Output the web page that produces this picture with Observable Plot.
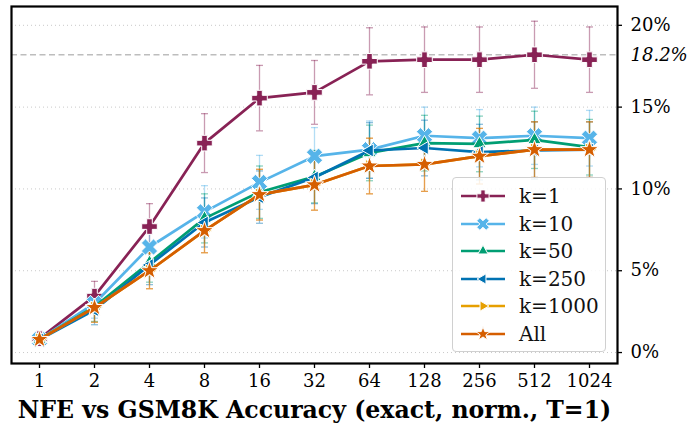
<!DOCTYPE html>
<html>
<head>
<meta charset="utf-8">
<script src="https://cdn.jsdelivr.net/npm/d3@7"></script>
<script src="https://cdn.jsdelivr.net/npm/@observablehq/plot@0.6"></script>
<style>
  html, body { margin: 0; padding: 0; background: white; }
  #wrap { position: relative; width: 693px; height: 428px; font-family: "DejaVu Serif", serif; }
  #legend { position: absolute; left: 452px; top: 177px; width: 154px; height: 175px; box-sizing: border-box;
    border: 1px solid #d0d0d0; border-radius: 4px; background: rgba(255,255,255,0.85); }
  .lg-row { position: absolute; left: 0; height: 26px; display: flex; align-items: center; }
  .lg-row svg { margin-left: 7px; }
  .lg-row span { margin-left: 13px; font-size: 20px; color: #111; }
</style>
</head>
<body>
<div id="wrap"></div>
<script>
// ---- data (percent) ----
const nfe = ["1","2","4","8","16","32","64","128","256","512","1024"];
const seriesNames = ["k=1","k=10","k=50","k=250","k=1000","All"];
const colors = ["#882255","#56B4E9","#009E73","#0072B2","#E69F00","#D55E00"];

const k1    = [0.85, 3.45, 7.7, 12.8, 15.55, 15.9, 17.8, 17.9, 17.9, 18.2, 17.9];
const k10   = [0.8, 3.0, 6.45, 8.6, 10.4, 12.0, 12.4, 13.25, 13.1, 13.25, 13.1];
const k50   = [0.8, 2.8, 5.5, 8.2, 9.8, 10.75, 12.2, 12.8, 12.75, 13.0, 12.55];
const k250  = [0.8, 2.6, 5.35, 7.95, 9.5, 10.7, 12.35, 12.5, 12.25, 12.35, 12.4];
const k1000 = [0.8, 2.75, 5.0, 7.45, 9.65, 10.25, 11.4, 11.5, 12.0, 12.4, 12.4];
const all   = [0.8, 2.75, 5.0, 7.45, 9.65, 10.25, 11.4, 11.5, 12.0, 12.4, 12.4];

const errK1    = [0.3, 0.9, 1.4, 1.8, 2.0, 1.95, 2.05, 2.0, 2.0, 2.05, 2.0];
const errK10   = [0.3, 0.9, 1.3, 1.6, 1.65, 1.75, 1.75, 1.75, 1.75, 1.75, 1.7];
const errK50   = [0.3, 0.9, 1.2, 1.5, 1.6, 1.6, 1.7, 1.7, 1.7, 1.75, 1.7];
const errK250  = [0.3, 0.9, 1.2, 1.5, 1.6, 1.6, 1.7, 1.7, 1.7, 1.75, 1.7];
const errK1000 = [0.3, 0.9, 1.1, 1.35, 1.55, 1.55, 1.7, 1.65, 1.7, 1.7, 1.7];
const errAll   = [0.3, 0.9, 1.1, 1.35, 1.55, 1.55, 1.7, 1.65, 1.7, 1.7, 1.7];

const yTicks = [0, 5, 10, 15, 20];
const refValue = 18.2;
const titleText = "NFE vs GSM8K Accuracy (exact, norm., T=1)";

// ---- custom symbols ----
const rad = s => Math.sqrt(s / Math.PI);
function crossPath(ctx, r, t, rot) {
  const pts = [[-t,-r],[t,-r],[t,-t],[r,-t],[r,t],[t,t],[t,r],[-t,r],[-t,t],[-r,t],[-r,-t],[-t,-t]];
  const c = Math.cos(rot), s = Math.sin(rot);
  pts.forEach(([x,y],i) => { const X = x*c - y*s, Y = x*s + y*c; i ? ctx.lineTo(X,Y) : ctx.moveTo(X,Y); });
  ctx.closePath();
}
const symPlus = { draw(ctx, size) { const r = rad(size); crossPath(ctx, r, r*0.36, 0); } };
const symX = { draw(ctx, size) { const r = rad(size); crossPath(ctx, r, r*0.34, Math.PI/4); } };
function triangle(ctx, r, ang) {
  for (let i = 0; i < 3; i++) {
    const a = ang + i * 2 * Math.PI / 3;
    const x = r * Math.cos(a), y = r * Math.sin(a);
    i ? ctx.lineTo(x, y) : ctx.moveTo(x, y);
  }
  ctx.closePath();
}
const symUp = { draw(ctx, size) { triangle(ctx, rad(size), -Math.PI/2); } };
const symLeft = { draw(ctx, size) { triangle(ctx, rad(size), Math.PI); } };
const symRight = { draw(ctx, size) { triangle(ctx, rad(size), 0); } };
const symStar = { draw(ctx, size) {
  const r = rad(size), ri = r * 0.4;
  for (let i = 0; i < 10; i++) {
    const a = -Math.PI/2 + i * Math.PI / 5, rr = i % 2 ? ri : r;
    const x = rr * Math.cos(a), y = rr * Math.sin(a);
    i ? ctx.lineTo(x, y) : ctx.moveTo(x, y);
  }
  ctx.closePath();
} };
const symCap = { draw(ctx, size) { const r = rad(size); ctx.moveTo(-r, 0); ctx.lineTo(r, 0); } };
const symbols = [symPlus, symX, symUp, symLeft, symRight, symStar];
const symR = [7.8, 8.6, 7.6, 7.6, 7.6, 9.5];

// ---- table ----
const vals = [k1, k10, k50, k250, k1000, all];
const errs = [errK1, errK10, errK50, errK250, errK1000, errAll];
const rows = [];
seriesNames.forEach((s, si) => nfe.forEach((n, i) => rows.push({
  series: s, si, nfe: n, y: vals[si][i], lo: vals[si][i] - errs[si][i], hi: vals[si][i] + errs[si][i]
})));

const marks = [
  Plot.gridY(yTicks, {stroke: "#bbb", strokeOpacity: 1, strokeDasharray: "1,3", strokeWidth: 0.8}),
  Plot.ruleY([refValue], {stroke: "#bdbdbd", strokeDasharray: "6,3.5", strokeWidth: 1.4})
];
// error bars
seriesNames.forEach((s, si) => {
  const d = rows.filter(r => r.si === si);
  const o = {stroke: colors[si], strokeOpacity: 0.45, strokeWidth: 1.3};
  marks.push(Plot.ruleX(d, {x: "nfe", y1: "lo", y2: "hi", ...o}));
  marks.push(Plot.dot(d, {x: "nfe", y: "lo", symbol: () => symCap, r: 3.5, fill: "none", ...o}));
  marks.push(Plot.dot(d, {x: "nfe", y: "hi", symbol: () => symCap, r: 3.5, fill: "none", ...o}));
});
// lines and markers
seriesNames.forEach((s, si) => {
  const d = rows.filter(r => r.si === si);
  marks.push(Plot.line(d, {x: "nfe", y: "y", stroke: colors[si], strokeWidth: 2.7}));
  marks.push(Plot.dot(d, {x: "nfe", y: "y", symbol: () => symbols[si], r: symR[si], fill: colors[si], stroke: "white", strokeWidth: 1}));
});
marks.push(
  Plot.frame({stroke: "black", strokeWidth: 2.2}),
  Plot.axisX({tickSize: 5, tickPadding: 6, label: null, fontSize: 18, strokeWidth: 1.3}),
  Plot.axisY(yTicks, {anchor: "right", tickSize: 4, tickPadding: 9, label: null, fontSize: 18, strokeWidth: 1.3, tickFormat: d => d + "%"}),
  Plot.axisY([refValue], {anchor: "right", tickSize: 0, tickPadding: 13, label: null, fontSize: 18, fontStyle: "italic", tickFormat: d => d + "%"}),
  Plot.text([titleText], {frameAnchor: "bottom", lineAnchor: "middle", dy: 47, fontSize: 23.6, fontWeight: "bold", fill: "black"})
);

const chart = Plot.plot({
  width: 693, height: 428,
  marginLeft: 11, marginRight: 76, marginTop: 6, marginBottom: 65,
  style: {fontFamily: "DejaVu Serif", background: "white", color: "black", overflow: "visible"},
  x: {type: "point", domain: nfe, padding: 0.5},
  y: {domain: [-0.67, 21.15]},
  marks
});
const wrap = document.getElementById("wrap");
wrap.appendChild(chart);

// legend
const legend = document.createElement("div");
legend.id = "legend";
seriesNames.forEach((s, si) => {
  const row = document.createElement("div");
  row.className = "lg-row";
  row.style.top = (5 + si * 27.5) + "px";
  const svg = d3.create("svg").attr("width", 46).attr("height", 26);
  svg.append("line").attr("x1", 1).attr("x2", 45).attr("y1", 13).attr("y2", 13)
    .attr("stroke", colors[si]).attr("stroke-width", 2.6);
  svg.append("path").attr("transform", "translate(23,13)")
    .attr("d", d3.symbol(symbols[si], Math.PI * Math.pow(symR[si] * 0.78, 2))())
    .attr("fill", colors[si]).attr("stroke", "white").attr("stroke-width", 1);
  row.appendChild(svg.node());
  const lab = document.createElement("span");
  lab.textContent = s;
  row.appendChild(lab);
  legend.appendChild(row);
});
wrap.appendChild(legend);
</script>
</body>
</html>
